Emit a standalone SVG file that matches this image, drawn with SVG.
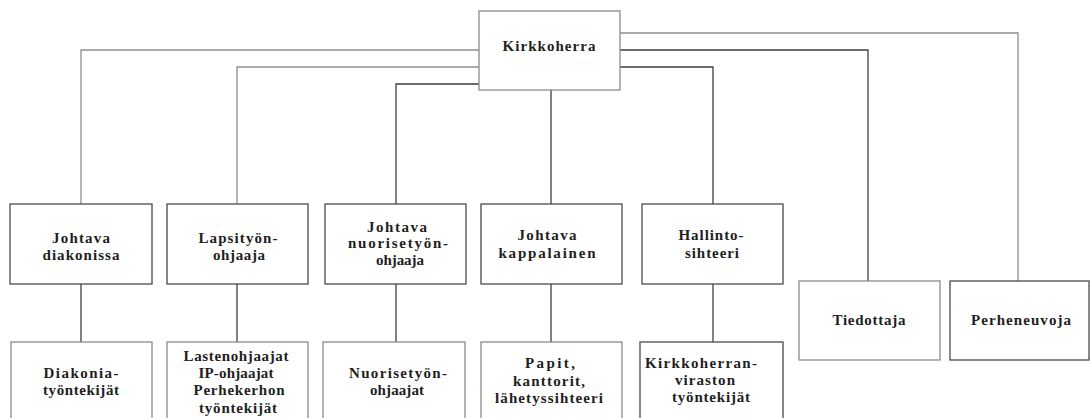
<svg xmlns="http://www.w3.org/2000/svg" width="1090" height="418" viewBox="0 0 1090 418">
  <style>
    .box { fill: #ffffff; stroke: #4a4a4a; stroke-width: 1.3; }
    .box.soft { stroke: #8a8a8a; }
    .lbl { font-family: "Liberation Serif", "Times New Roman", serif; font-weight: bold; font-size: 15px; fill: #1e1e1e; text-anchor: middle; }
    .wire { fill: none; stroke: #3c3c3c; stroke-width: 1.3; }
    .wire.soft { stroke: #8e8e8e; }
  </style>
  <rect width="1090" height="418" fill="#ffffff"/>

  <!-- connectors -->
  <g id="connectors">
    <path class="wire soft" d="M479,50 H81 V204"/>
    <path class="wire soft" d="M479,67 H237 V204"/>
    <path class="wire" d="M479,84 H396 V204"/>
    <path class="wire" d="M551,90 V204"/>
    <path class="wire" d="M620,67 H713 V204"/>
    <path class="wire" d="M620,50 H868 V281"/>
    <path class="wire soft" d="M620,33 H1018 V281"/>
    <path class="wire" d="M81,284 V342"/>
    <path class="wire" d="M237,284 V342"/>
    <path class="wire" d="M396,284 V342"/>
    <path class="wire" d="M551,284 V342"/>
    <path class="wire" d="M713,284 V342"/>
  </g>

  <!-- top -->
  <g id="kirkkoherra">
    <rect class="box soft" x="479" y="11" width="141" height="79"/>
    <text class="lbl" x="549" y="51" textLength="93" lengthAdjust="spacing">Kirkkoherra</text>
  </g>

  <!-- middle row -->
  <g id="johtava-diakonissa">
    <rect class="box" x="10" y="204" width="142" height="80"/>
    <text class="lbl" x="81" y="243" textLength="58" lengthAdjust="spacing">Johtava</text>
    <text class="lbl" x="81" y="260" textLength="77" lengthAdjust="spacing">diakonissa</text>
  </g>
  <g id="lapsityon-ohjaaja">
    <rect class="box" x="167" y="204" width="141" height="80"/>
    <text class="lbl" x="238" y="243" textLength="79" lengthAdjust="spacing">Lapsityön-</text>
    <text class="lbl" x="239" y="260" textLength="52" lengthAdjust="spacing">ohjaaja</text>
  </g>
  <g id="johtava-nuorisotyonohjaaja">
    <rect class="box" x="325" y="204" width="141" height="80"/>
    <text class="lbl" x="397" y="232" textLength="60" lengthAdjust="spacing">Johtava</text>
    <text class="lbl" x="398" y="248" textLength="100" lengthAdjust="spacing">nuorisetyön-</text>
    <text class="lbl" x="400" y="265" textLength="48" lengthAdjust="spacing">ohjaaja</text>
  </g>
  <g id="johtava-kappalainen">
    <rect class="box" x="481" y="204" width="141" height="80"/>
    <text class="lbl" x="547" y="240" textLength="59" lengthAdjust="spacing">Johtava</text>
    <text class="lbl" x="547" y="258" textLength="97" lengthAdjust="spacing">kappalainen</text>
  </g>
  <g id="hallintosihteeri">
    <rect class="box" x="642" y="204" width="141" height="80"/>
    <text class="lbl" x="711" y="240" textLength="65" lengthAdjust="spacing">Hallinto-</text>
    <text class="lbl" x="712" y="258" textLength="54" lengthAdjust="spacing">sihteeri</text>
  </g>
  <g id="tiedottaja">
    <rect class="box soft" x="799" y="281" width="141" height="79"/>
    <text class="lbl" x="869" y="325" textLength="73" lengthAdjust="spacing">Tiedottaja</text>
  </g>
  <g id="perheneuvoja">
    <rect class="box" x="950" y="281" width="139" height="79"/>
    <text class="lbl" x="1021" y="325" textLength="100" lengthAdjust="spacing">Perheneuvoja</text>
  </g>

  <!-- bottom row -->
  <g id="diakoniatyontekijat">
    <rect class="box soft" x="11" y="342" width="141" height="82"/>
    <text class="lbl" x="81" y="378" textLength="75" lengthAdjust="spacing">Diakonia-</text>
    <text class="lbl" x="81" y="395" textLength="76" lengthAdjust="spacing">työntekijät</text>
  </g>
  <g id="lastenohjaajat">
    <rect class="box soft" x="167" y="342" width="141" height="82"/>
    <text class="lbl" x="236" y="361" textLength="105" lengthAdjust="spacing">Lastenohjaajat</text>
    <text class="lbl" x="236" y="378" textLength="75" lengthAdjust="spacing">IP-ohjaajat</text>
    <text class="lbl" x="239" y="395" textLength="91" lengthAdjust="spacing">Perhekerhon</text>
    <text class="lbl" x="238" y="413" textLength="78" lengthAdjust="spacing">työntekijät</text>
  </g>
  <g id="nuorisotyonohjaajat">
    <rect class="box soft" x="323" y="342" width="142" height="82"/>
    <text class="lbl" x="398" y="378" textLength="98" lengthAdjust="spacing">Nuorisetyön-</text>
    <text class="lbl" x="397" y="395" textLength="54" lengthAdjust="spacing">ohjaajat</text>
  </g>
  <g id="papit">
    <rect class="box soft" x="481" y="342" width="141" height="82"/>
    <text class="lbl" x="550" y="368" textLength="50" lengthAdjust="spacing">Papit,</text>
    <text class="lbl" x="549" y="386" textLength="72" lengthAdjust="spacing">kanttorit,</text>
    <text class="lbl" x="549" y="403" textLength="108" lengthAdjust="spacing">lähetyssihteeri</text>
  </g>
  <g id="kirkkoherranviraston-tyontekijat">
    <rect class="box" x="640" y="342" width="143" height="82"/>
    <text class="lbl" x="701" y="368" textLength="112" lengthAdjust="spacing">Kirkkoherran-</text>
    <text class="lbl" x="705" y="385" textLength="60" lengthAdjust="spacing">viraston</text>
    <text class="lbl" x="711" y="402" textLength="78" lengthAdjust="spacing">työntekijät</text>
  </g>
</svg>
